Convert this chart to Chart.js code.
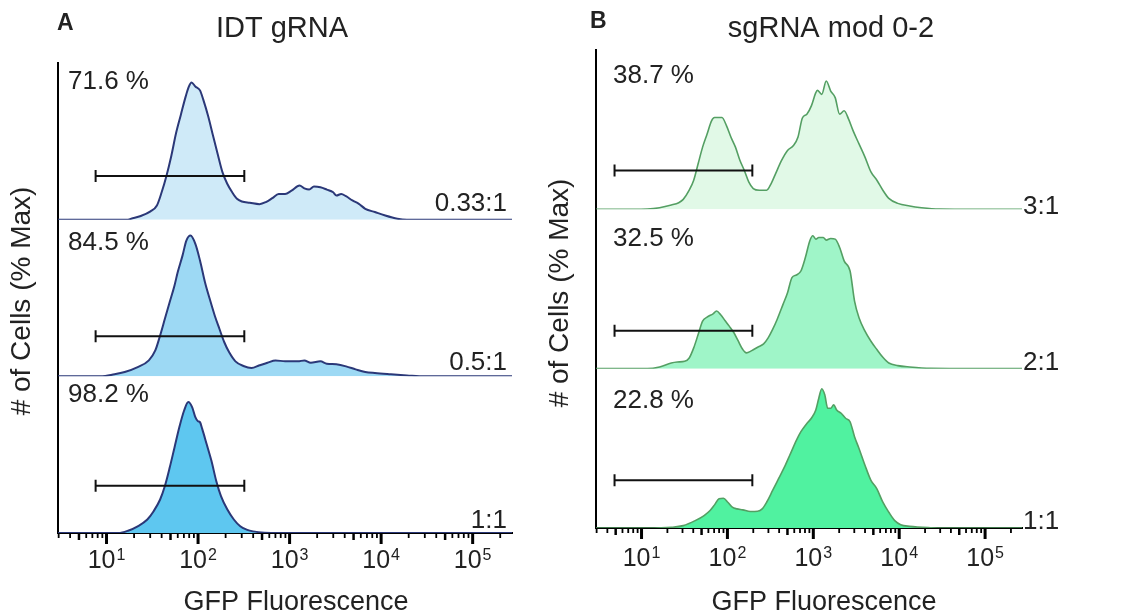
<!DOCTYPE html>
<html>
<head>
<meta charset="utf-8">
<script src="https://cdn.jsdelivr.net/npm/chart.js@4.4.1/dist/chart.umd.min.js"></script>
<style>
  html, body { margin: 0; padding: 0; background: #fff; }
  #wrap { position: relative; width: 1125px; height: 616px; }
  canvas { position: absolute; top: 0; }
</style>
</head>
<body>
<div id="wrap">
  <canvas id="chartA" width="545" height="616" style="left:0"></canvas>
  <canvas id="chartB" width="580" height="616" style="left:545px"></canvas>
</div>
<script>
// histogram traces: [GFP fluorescence, % of max]
const idt033 = [[2.95,0],[17.2,0],[18.6,0.7],[23.7,2.7],[30.2,6.1],[35.5,10.4],[40,20.1],[45.2,32.3],[51,46.8],[57.6,63.8],[64.9,77.1],[73.3,90.5],[79.5,97.8],[84.8,100.7],[93.4,97.8],[105,94.9],[114,88.1],[129,75.9],[146,61.4],[164,48],[185,34.7],[209,26.2],[236,20.1],[266,15.3],[301,13.3],[368,12.4],[469,11.4],[551,12.9],[647,15.8],[760,18.9],[893,18.9],[1050,21.3],[1284,25],[1449,23],[1636,22.1],[1846,24.3],[2169,23.8],[2549,22.1],[2995,20.1],[3246,17.7],[3663,18.9],[4136,17.2],[4860,14.1],[5710,11.6],[6708,8],[8544,5.6],[10880,3.2],[15030,0.7],[19140,0],[269000,0]];
const idt05 = [[2.95,0],[9,0],[11.5,1.2],[15.8,3.2],[21.9,6.8],[29,11.7],[34.1,19],[38.5,30],[43.4,42.2],[49,54.5],[55.3,66.7],[59.9,76.4],[67.6,88.6],[74.5,99.6],[82.7,103.3],[93.4,97.2],[105,85],[119,69.1],[134,56.9],[152,44.7],[171,34.9],[193,25.2],[218,17.8],[256,11],[313,7.6],[383,6.1],[469,8.1],[573,10],[701,11.7],[893,11],[1233,11],[1449,11.7],[1703,10],[2169,11],[2549,9.3],[3246,8.8],[4136,7.3],[5267,5.1],[6708,3.2],[8544,2.4],[12790,1.5],[19140,0.7],[30000,0],[269000,0]];
const idt1 = [[2.95,0],[13.5,0],[17.2,1.7],[21.9,4.9],[27.9,9.9],[32.7,16],[38.5,24.6],[43.4,34.5],[49,48],[55.3,62.8],[62.4,77.6],[70.4,89.9],[78.2,96.1],[86.1,92.4],[93.4,85],[99.6,82],[105,81.3],[111,76.4],[124,65.3],[140,53],[158,38.2],[178,27.1],[209,17.2],[246,9.9],[289,4.9],[339,2.5],[399,1.2],[760,0],[269000,0]];

const mod3 = [[2.95,0],[7.9,0],[11.7,0.2],[16.2,1.2],[22.2,3.1],[27.1,4.8],[30.6,7.2],[35.9,13.8],[40.5,21],[45.6,32.9],[51.4,44.9],[58,54.4],[65.3,63.9],[70.8,66.3],[86.4,66.3],[97.4,60.4],[110,52],[124,44.9],[140,35.3],[157,28.2],[177,19.8],[200,15],[235,13.8],[286,13.8],[323,18.6],[364,25.8],[427,35.3],[501,42.5],[587,46],[662,52],[746,65.9],[841,68.7],[949,74.7],[1069,84.2],[1113,85.9],[1255,83],[1414,92.6],[1594,85.4],[1797,80.6],[2026,68.7],[2284,71.1],[2575,65.1],[2902,56.8],[3404,47.2],[3995,37.7],[4687,27],[5498,21],[6451,13.8],[7568,7.9],[9616,4.3],[13230,2.4],[18220,1.2],[29420,0.2],[76700,0],[269000,0]];
const mod2 = [[2.95,0],[11.7,0],[16.2,1.2],[22.2,4.1],[26.1,4.8],[31.8,5.3],[35.9,7.7],[40.5,15],[45.6,24.6],[51.4,34.3],[58,37.2],[68,39.6],[74.8,41.6],[83,39.1],[93.6,34.8],[105,30.7],[119,25.9],[134,19.8],[151,13.8],[166,11.4],[192,13],[225,15.5],[264,17.9],[298,22.2],[336,28.3],[379,35.5],[444,46.4],[501,54.8],[564,65.7],[637,67.6],[717,70.5],[808,80.2],[911,92.3],[987,95.9],[1069,93.5],[1158,94.7],[1306,94.7],[1414,92.8],[1594,94],[1797,93.5],[2026,87.5],[2284,77.8],[2679,70.5],[3020,48.8],[3404,36.7],[3995,27.1],[4687,19.8],[5498,13.8],[6451,8.2],[7568,4.1],[9616,2.2],[13230,1.2],[23140,0.2],[76700,0],[269000,0]];
const mod1 = [[2.95,0],[11.7,0],[22.2,0.5],[30.6,1.7],[42.1,5.3],[53.5,9],[62.8,12.6],[70.8,16.7],[79.8,21.1],[89.9,21.5],[101,18.6],[114,15],[129,13.8],[151,13.1],[185,11.9],[225,12.1],[254,13.8],[286,18.6],[336,27.1],[394,35.6],[462,44.1],[542,53.7],[637,63.4],[717,69.5],[841,75.5],[949,79.2],[1069,85.2],[1158,93.7],[1255,100.5],[1359,96.1],[1472,86.4],[1594,86.4],[1727,88.9],[1871,85.2],[2109,82.8],[2377,79.2],[2679,76.7],[3020,65.9],[3404,57.4],[3995,45.3],[4687,34.4],[5498,28.3],[6451,18.6],[7568,11.4],[8880,5.3],[10410,2.4],[13230,1.2],[23140,0.2],[34510,0],[269000,0]];

// gates (low / high fluorescence) and their heights per trace, top to bottom
const idtGate = [7.6, 320];
const idtGateY = [32, 29.5, 34.7];
const modGate = [4.85, 195];
const modGateY = [28, 27.4, 34.5];

const idtPercents = ['71.6 %', '84.5 %', '98.2 %'];
const idtRatios = ['0.33:1', '0.5:1', '1:1'];
const modPercents = ['38.7 %', '32.5 %', '22.8 %'];
const modRatios = ['3:1', '2:1', '1:1'];

const decades = [10, 100, 1000, 10000, 100000];
const decadeExp = ['1', '2', '3', '4', '5'];
const xMin = 2.95, xMax = 269000;

const FONT = "'Liberation Sans', Arial, Helvetica, sans-serif";

const panelText = {
  id: 'panelText',
  afterDraw(chart, args, o) {
    const ctx = chart.ctx;
    const xs = chart.scales.x;
    const ca = chart.chartArea;
    ctx.save();
    // log tick marks below the axis
    ctx.strokeStyle = '#000';
    for (let d = 1; d <= 1e5; d *= 10) {
      for (let m = 1; m <= 9; m++) {
        const v = m * d;
        if (v < xs.min || v > xs.max) continue;
        const px = xs.getPixelForValue(v);
        const len = m === 1 ? 11 : (m === 5 ? 7 : 5);
        ctx.lineWidth = m === 1 ? 3 : (m === 5 ? 2.5 : 1.8);
        ctx.beginPath();
        ctx.moveTo(px, ca.bottom);
        ctx.lineTo(px, ca.bottom + len);
        ctx.stroke();
      }
    }
    ctx.fillStyle = '#222';
    ctx.textBaseline = 'alphabetic';
    // decade labels 10^n
    decades.forEach((v, i) => {
      const px = xs.getPixelForValue(v);
      ctx.font = '25px ' + FONT;
      const w1 = ctx.measureText('10').width;
      ctx.font = '16px ' + FONT;
      const w2 = ctx.measureText(decadeExp[i]).width;
      const x0 = px - (w1 + w2 + 1) / 2;
      const y0 = ca.bottom + o.tickDy;
      ctx.textAlign = 'left';
      ctx.font = '25px ' + FONT;
      ctx.fillText('10', x0, y0);
      ctx.font = '16px ' + FONT;
      ctx.fillText(decadeExp[i], x0 + w1 + 1, y0 - 8);
    });
    // percentages and ratios per trace
    o.axes.forEach((id, i) => {
      const ys = chart.scales[id];
      ctx.font = '26px ' + FONT;
      ctx.textAlign = 'left';
      ctx.fillText(o.percents[i], o.pctX, ys.top + o.pctDy[i]);
      ctx.font = o.ratioSize + 'px ' + FONT;
      ctx.textAlign = o.ratioAlign;
      ctx.fillText(o.ratios[i], o.ratioX, ys.getPixelForValue(0) + o.ratioDy[i]);
    });
    // panel letter and title
    ctx.textAlign = 'left';
    ctx.font = 'bold 23px ' + FONT;
    ctx.fillText(o.letter, o.letterX, o.letterY);
    ctx.textAlign = 'center';
    ctx.font = '29px ' + FONT;
    ctx.fillText(o.title, o.titleX, o.titleY);
    // axis titles
    ctx.font = '27px ' + FONT;
    ctx.fillText('GFP Fluorescence', o.xTitleX, o.xTitleY);
    ctx.translate(o.yTitleX, o.yTitleY);
    ctx.rotate(-Math.PI / 2);
    ctx.font = '28px ' + FONT;
    ctx.fillText('# of Cells (% Max)', 0, 0);
    ctx.restore();
  }
};

function makePanel(canvasId, traces, gate, gateY, fills, lineColor, lineWidth, layoutPad, textOpts) {
  const axes = ['yTop', 'yMid', 'yBot'];
  const datasets = [];
  traces.forEach((tr, i) => {
    datasets.push({
      data: [{x: gate[0], y: gateY[i]}, {x: gate[1], y: gateY[i]}],
      yAxisID: axes[i],
      borderColor: '#111',
      borderWidth: 2,
      pointStyle: 'line',
      rotation: 90,
      pointRadius: 6,
      pointBorderWidth: 2,
      pointBorderColor: '#111',
      fill: false,
      order: 0
    });
    datasets.push({
      data: tr.map(p => ({x: p[0], y: p[1]})),
      yAxisID: axes[i],
      borderColor: lineColor,
      borderWidth: lineWidth,
      backgroundColor: fills[i],
      fill: 'origin',
      pointRadius: 0,
      cubicInterpolationMode: 'monotone',
      order: 1
    });
  });

  const yAxis = (weight) => ({
    type: 'linear',
    position: 'left',
    stack: 'traces',
    stackWeight: 1,
    weight: weight,
    min: 0,
    max: 115,
    ticks: { display: false },
    grid: { display: false, drawTicks: false },
    border: { display: true, color: '#000', width: 2 }
  });

  textOpts.axes = axes;
  return new Chart(document.getElementById(canvasId), {
    type: 'line',
    data: { datasets: datasets },
    options: {
      responsive: false,
      animation: false,
      devicePixelRatio: 1,
      layout: { padding: layoutPad },
      plugins: {
        legend: { display: false },
        tooltip: { enabled: false },
        panelText: textOpts
      },
      scales: {
        x: {
          type: 'logarithmic',
          min: xMin,
          max: xMax,
          ticks: { display: false },
          grid: { display: false, drawTicks: false },
          border: { display: true, color: '#000', width: 2 }
        },
        yBot: yAxis(1),
        yMid: yAxis(2),
        yTop: yAxis(3)
      }
    },
    plugins: [panelText]
  });
}

makePanel('chartA', [idt033, idt05, idt1], idtGate, idtGateY,
  ['#cfeaf8', '#9dd9f4', '#5ec7f0'], '#2b3878', 2,
  { left: 58, right: 33, top: 63, bottom: 83 },
  {
    percents: idtPercents, ratios: idtRatios,
    pctX: 68, pctDy: [26, 30, 26],
    ratioSize: 26, ratioAlign: 'right', ratioX: 507, ratioDy: [-9, -6, -5],
    tickDy: 35,
    letter: 'A', letterX: 57, letterY: 30,
    title: 'IDT gRNA', titleX: 282, titleY: 37,
    xTitleX: 296, xTitleY: 610,
    yTitleX: 30, yTitleY: 301
  });

makePanel('chartB', [mod3, mod2, mod1], modGate, modGateY,
  ['#e1f9e7', '#9ff5c8', '#50f2a0'], '#549f63', 1.6,
  { left: 51, right: 103, top: 50, bottom: 88 },
  {
    percents: modPercents, ratios: modRatios,
    pctX: 68, pctDy: [33, 37, 39],
    ratioSize: 26, ratioAlign: 'left', ratioX: 478, ratioDy: [5, 1, 1],
    tickDy: 38,
    letter: 'B', letterX: 45, letterY: 28,
    title: 'sgRNA mod 0-2', titleX: 286, titleY: 37,
    xTitleX: 279, xTitleY: 610,
    yTitleX: 23, yTitleY: 293
  });
</script>
</body>
</html>
